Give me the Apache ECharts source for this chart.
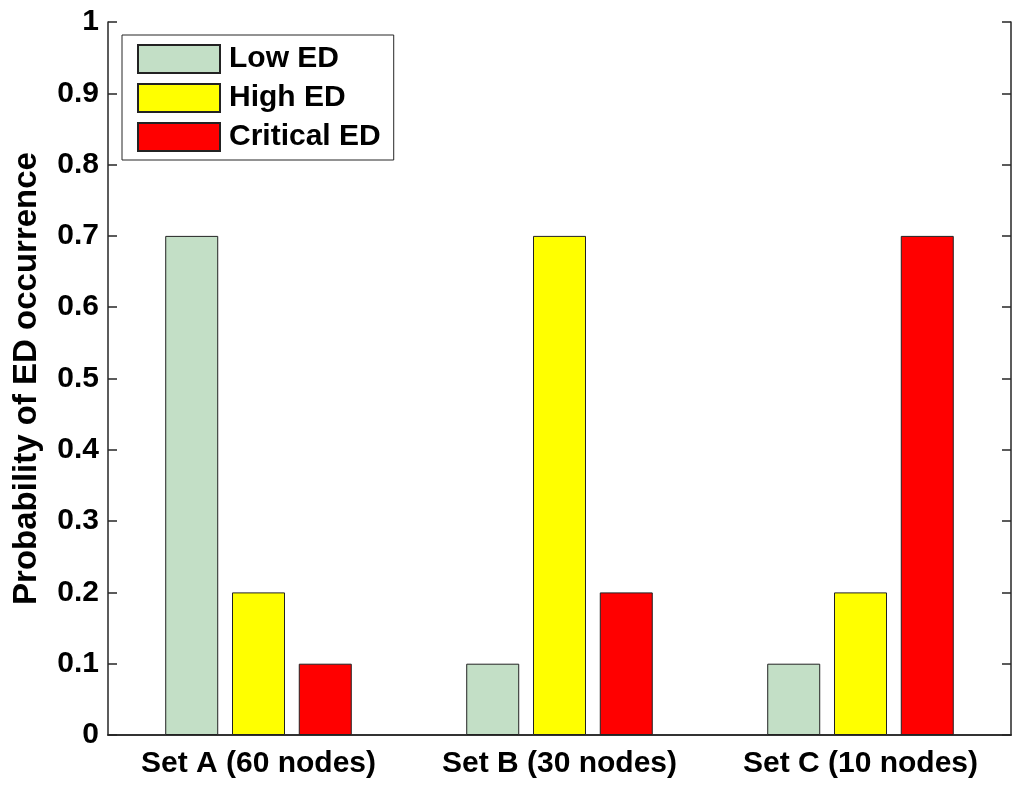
<!DOCTYPE html>
<html>
<head>
<meta charset="utf-8">
<script src="https://cdn.jsdelivr.net/npm/echarts@6/dist/echarts.min.js"></script>
<style>
html, body { margin: 0; padding: 0; background: #fff; }
#chart { width: 1024px; height: 789px; }
</style>
</head>
<body>
<div id="chart"></div>
<script>
// 数据
var categories = ['Set A (60 nodes)', 'Set B (30 nodes)', 'Set C (10 nodes)'];
var lowED = [0.7, 0.1, 0.1];
var highED = [0.2, 0.7, 0.2];
var criticalED = [0.1, 0.2, 0.7];
var yTicks = [0, 0.1, 0.2, 0.3, 0.4, 0.5, 0.6, 0.7, 0.8, 0.9, 1];

var chart = echarts.init(document.getElementById('chart'));
var font = 'Liberation Sans, Arial, sans-serif';
var lineCol = '#262626';

function bar(name, data, color) {
    return {
        name: name,
        type: 'bar',
        data: data,
        barWidth: 53,
        barGap: '26%',
        itemStyle: { color: color, borderColor: '#222', borderWidth: 1 }
    };
}

var option = {
    animation: false,
    backgroundColor: '#fff',
    grid: { left: 108, right: 13, top: 22, bottom: 54, containLabel: false },
    legend: {
        orient: 'vertical',
        left: 122,
        top: 35,
        padding: [9, 13, 8, 15],
        itemWidth: 82,
        itemHeight: 28,
        itemGap: 9,
        icon: 'rect',
        backgroundColor: '#fff',
        borderColor: lineCol,
        borderWidth: 1,
        borderRadius: 0,
        textStyle: { fontFamily: font, fontWeight: 'bold', fontSize: 30, color: '#000', padding: [0, 0, 0, 4] },
        data: ['Low ED', 'High ED', 'Critical ED']
    },
    xAxis: [{
        type: 'category',
        data: categories,
        boundaryGap: true,
        axisLine: { lineStyle: { color: lineCol, width: 1.5 } },
        axisTick: { inside: true, length: 9, alignWithLabel: true, lineStyle: { color: lineCol, width: 1.5 } },
        axisLabel: { interval: 0, hideOverlap: false, fontFamily: font, fontWeight: 'bold', fontSize: 30, color: '#000', margin: 14 },
        splitLine: { show: false }
    }, {
        type: 'category',
        position: 'top',
        data: categories,
        boundaryGap: true,
        axisLine: { lineStyle: { color: lineCol, width: 1.5 } },
        axisTick: { inside: true, length: 9, alignWithLabel: true, lineStyle: { color: lineCol, width: 1.5 } },
        axisLabel: { show: false },
        splitLine: { show: false }
    }],
    yAxis: [{
        type: 'value',
        min: 0,
        max: 1,
        interval: 0.1,
        name: 'Probability of ED occurrence',
        nameLocation: 'middle',
        nameGap: 65,
        nameTextStyle: { fontFamily: font, fontWeight: 'bold', fontSize: 33, color: '#000' },
        axisLine: { show: true, lineStyle: { color: lineCol, width: 1.5 } },
        axisTick: { show: true, inside: true, length: 9, lineStyle: { color: lineCol, width: 1.5 } },
        axisLabel: {
            fontFamily: font, fontWeight: 'bold', fontSize: 30, color: '#000', margin: 9,
            formatter: function (v) {
                var t = yTicks.find(function (k) { return Math.abs(k - v) < 1e-9; });
                return t === undefined ? '' : String(t);
            }
        },
        splitLine: { show: false }
    }, {
        type: 'value',
        position: 'right',
        min: 0,
        max: 1,
        interval: 0.1,
        axisLine: { show: true, lineStyle: { color: lineCol, width: 1.5 } },
        axisTick: { show: true, inside: true, length: 9, lineStyle: { color: lineCol, width: 1.5 } },
        axisLabel: { show: false },
        splitLine: { show: false }
    }],
    series: [
        bar('Low ED', lowED, '#c3dfc6'),
        bar('High ED', highED, '#ffff00'),
        bar('Critical ED', criticalED, '#ff0000')
    ]
};

chart.setOption(option);
</script>
</body>
</html>
